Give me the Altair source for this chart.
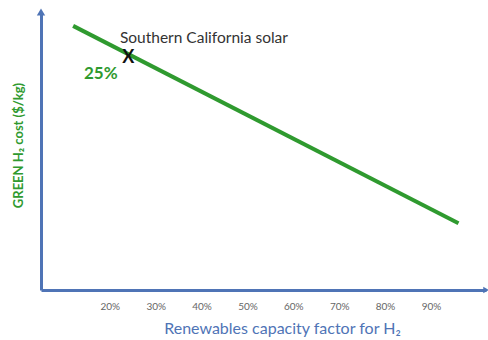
import altair as alt
import pandas as pd

# Data
line_x = [12, 96]          # renewables capacity factor (%)
line_y = [95, 24]          # relative green H2 cost (arbitrary units)
marker_x = [24]
marker_y = [84.9]
tick_values = [20, 30, 40, 50, 60, 70, 80, 90]

ann_text = ["Southern California solar", "25%"]
ann_x = [22.2, 21.7]
ann_y = [91, 78]

X_DOM = [5, 102]
Y_DOM = [0, 100]
BLUE = "#4f74b6"
GREEN = "#2f9a2f"

df_line = pd.DataFrame({"x": line_x, "y": line_y})
df_mark = pd.DataFrame({"x": marker_x, "y": marker_y, "t": ["X"]})

xs = alt.Scale(domain=X_DOM, nice=False, zero=False)
ys = alt.Scale(domain=Y_DOM, nice=False, zero=False)

xaxis = alt.Axis(values=tick_values, labelExpr="datum.value + '%'", grid=False, ticks=False,
                 domainColor=BLUE, domainWidth=3, labelColor="#666666", labelFontSize=10,
                 labelFont="Lato", labelPadding=11, title="Renewables capacity factor for H₂",
                 titleColor=BLUE, titleFont="Lato", titleFontSize=16, titleFontWeight="normal",
                 titleX=241, titleY=38, titleAlign="center", titleBaseline="middle")
yaxis = alt.Axis(labels=False, ticks=False, grid=False, domainColor=BLUE, domainWidth=3,
                 title="GREEN H₂ cost ($/kg)", titleColor=GREEN, titleFont="Lato",
                 titleFontSize=13, titleFontWeight="bold", titleX=-23, titleY=133,
                 titleAlign="center", titleBaseline="middle", titleAngle=270)

base_line = alt.Chart(df_line).mark_line(color=GREEN, strokeWidth=4).encode(
    x=alt.X("x:Q", scale=xs, axis=xaxis),
    y=alt.Y("y:Q", scale=ys, axis=yaxis),
)

marker = alt.Chart(df_mark).mark_text(fontSize=18, fontWeight="bold", color="#111111",
                                      font="Lato", dy=4).encode(
    x=alt.X("x:Q", scale=xs), y=alt.Y("y:Q", scale=ys), text="t:N")

df_a1 = pd.DataFrame({"x": [ann_x[0]], "y": [ann_y[0]], "t": [ann_text[0]]})
df_a2 = pd.DataFrame({"x": [ann_x[1]], "y": [ann_y[1]], "t": [ann_text[1]]})
a1 = alt.Chart(df_a1).mark_text(align="left", baseline="middle", fontSize=15.5, color="#333333",
                                font="Lato", dy=1).encode(
    x=alt.X("x:Q", scale=xs), y=alt.Y("y:Q", scale=ys), text="t:N")
a2 = alt.Chart(df_a2).mark_text(align="right", baseline="middle", fontSize=17, fontWeight="bold",
                                color=GREEN, font="Lato", dy=1).encode(
    x=alt.X("x:Q", scale=xs), y=alt.Y("y:Q", scale=ys), text="t:N")

# Axis arrowheads at the ends of the axes
df_up = pd.DataFrame({"x": [X_DOM[0]], "y": [Y_DOM[1]]})
df_right = pd.DataFrame({"x": [X_DOM[1]], "y": [Y_DOM[0]]})
up = alt.Chart(df_up).mark_point(shape="triangle-up", filled=True, color=BLUE, size=70,
                                 opacity=1).encode(
    x=alt.X("x:Q", scale=xs), y=alt.Y("y:Q", scale=ys))
right = alt.Chart(df_right).mark_point(shape="triangle-right", filled=True, color=BLUE, size=40,
                                       opacity=1).encode(
    x=alt.X("x:Q", scale=xs), y=alt.Y("y:Q", scale=ys))

chart = alt.layer(base_line, marker, a1, a2, up, right).properties(
    width=445, height=278,
    padding={"left": 41, "top": 12, "right": 2, "bottom": 50},
    autosize=alt.AutoSizeParams(type="none"),
).configure_view(stroke=None)

chart.save("out.html", embed_options={"renderer": "svg", "actions": False})
